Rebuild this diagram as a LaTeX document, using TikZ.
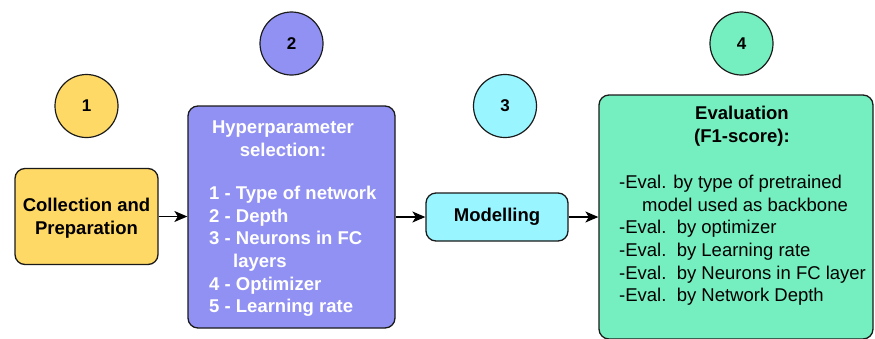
\documentclass[tikz,border=0pt]{standalone}
\usepackage{fontspec}
\setmainfont{Liberation Sans}
\usetikzlibrary{arrows.meta}
\definecolor{cyel}{HTML}{FFD966}
\definecolor{cpur}{HTML}{9191F3}
\definecolor{ccya}{HTML}{99F5FF}
\definecolor{cgrn}{HTML}{75EEC0}
\definecolor{cedge}{HTML}{1A1A1A}
\tikzset{
  stepbox/.style={draw=cedge, line width=1.3pt, rounded corners=10pt, inner sep=0pt},
  numcirc/.style={circle, draw=cedge, line width=1.2pt, minimum size=63pt, inner sep=0pt, font=\fontsize{17}{20}\selectfont\bfseries},
  boldtxt/.style={font=\fontsize{18.5}{22.6}\selectfont\bfseries, inner sep=0pt},
  plaintxt/.style={font=\fontsize{18.5}{22.6}\selectfont, inner sep=0pt},
  flow/.style={line width=1.3pt, draw=black, -{Stealth[length=13pt,width=11pt,inset=3.5pt]}}
}
\begin{document}
\begin{tikzpicture}[x=1pt,y=-1pt]
\useasboundingbox (0,0) rectangle (875,338);
% circles
\node[numcirc, fill=cyel] (c1) at (86.5,106) {1};
\node[numcirc, fill=cpur] (c2) at (291.5,43.5) {2};
\node[numcirc, fill=ccya] (c3) at (505,106) {3};
\node[numcirc, fill=cgrn] (c4) at (741.5,43.5) {4};
% boxes
\node[stepbox, fill=cyel, minimum width=143pt, minimum height=96pt] (b1) at (86.5,216.5) {};
\node[stepbox, fill=cpur, minimum width=207pt, minimum height=222pt] (b2) at (291.5,217) {};
\node[stepbox, fill=ccya, minimum width=142pt, minimum height=48pt] (b3) at (497,217) {};
\node[stepbox, fill=cgrn, minimum width=274pt, minimum height=244pt] (b4) at (736,217) {};
% texts
\node[boldtxt, align=center] (t1) at (86.5,218) {Collection and\\Preparation};
\node[boldtxt, align=center, text=white] (t2a) at (283,139) {Hyperparameter\\selection:};
\node[boldtxt, align=left, text=white, anchor=west] (t2b) at (209,251.5) {1 - Type of network\\2 - Depth\\3 - Neurons in FC\\\hspace*{24pt}layers\\4 - Optimizer\\5 - Learning rate};
\node[boldtxt] (t3) at (497,217) {Modelling};
\node[boldtxt, align=center] (t4a) at (742,126) {Evaluation\\(F1-score):};
\node[plaintxt, align=left, anchor=west] (t4b) at (619,240.5) {-Eval. by type of pretrained\\\hspace*{23pt}model used as backbone\\-Eval.\ \ by optimizer\\-Eval.\ \ by Learning rate\\-Eval.\ \ by Neurons in FC layer\\-Eval.\ \ by Network Depth};
% arrows
\draw[flow] (b1.east) -- (b1.east -| b2.west);
\draw[flow] (b2.east |- b3.west) -- (b3.west);
\draw[flow] (b3.east) -- (b3.east -| b4.west);
\end{tikzpicture}
\end{document}
